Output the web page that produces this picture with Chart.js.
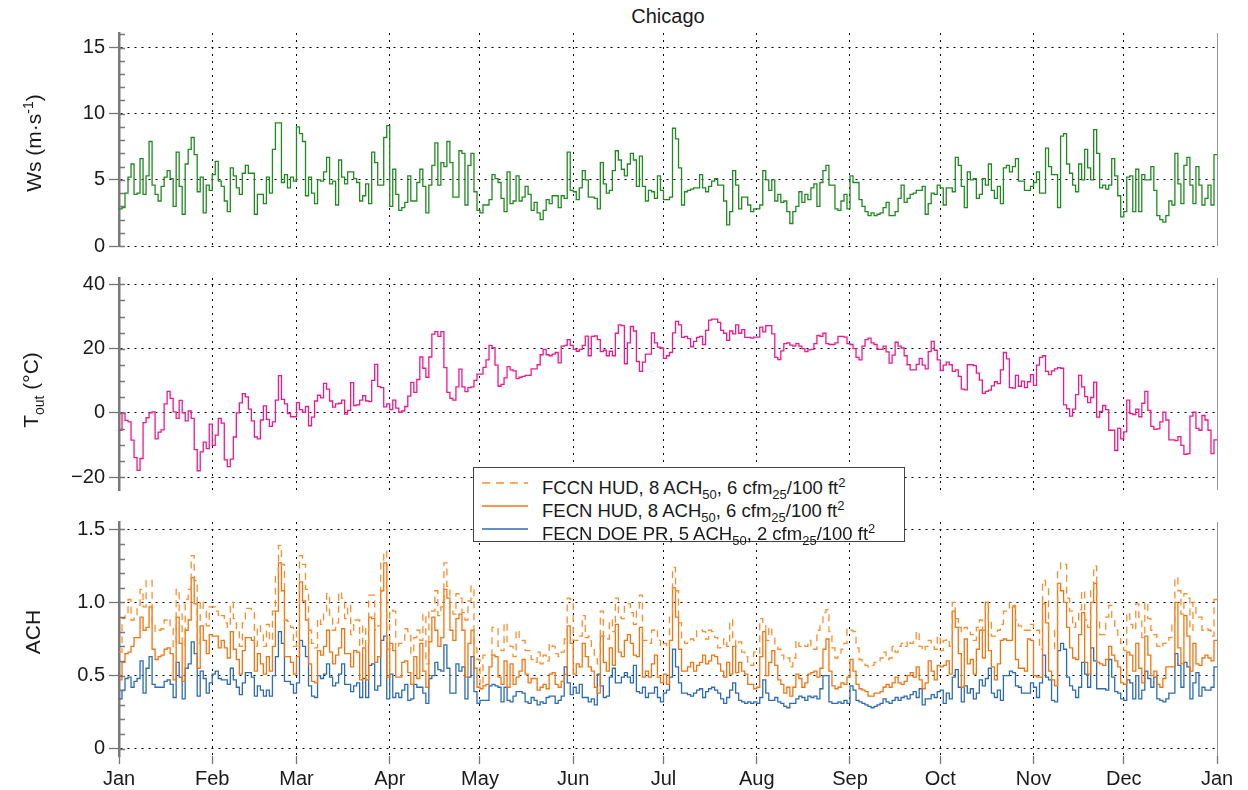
<!DOCTYPE html>
<html>
<head>
<meta charset="utf-8">
<title>Chicago</title>
<script src="https://cdn.jsdelivr.net/npm/chart.js@4.4.1/dist/chart.umd.min.js"></script>
<style>
  body { margin: 0; background: #fff; font-family: "Liberation Sans", Arial, sans-serif; color: #1a1a1a; }
  #page { position: relative; width: 1248px; height: 790px; overflow: hidden; }
  canvas { position: absolute; left: 0; }
  #title { position: absolute; left: 119px; width: 1098px; top: 5px; text-align: center; font-size: 20px; }
  .ylab { position: absolute; left: 33px; font-size: 21px; white-space: nowrap; transform: translate(-50%, -50%) rotate(-90deg); }
  .ylab sup, .ylab sub { font-size: 14px; }
  #legend { position: absolute; left: 473px; top: 467px; width: 430px; height: 73px; border: 1.5px solid #444; background: #fff; font-size: 18.5px; }
  #legend .row { position: absolute; left: 0; height: 23px; line-height: 23px; white-space: nowrap; }
  #legend svg { position: absolute; left: 8px; top: 10px; }
  #legend span { position: absolute; left: 68px; }
  #legend sub, #legend sup { font-size: 13px; }
</style>
</head>
<body>
<div id="page">
  <div id="title">Chicago</div>
  <canvas id="wsChart" width="1248" height="262" style="top:0"></canvas>
  <canvas id="toutChart" width="1248" height="244" style="top:262px"></canvas>
  <canvas id="achChart" width="1248" height="284" style="top:506px"></canvas>
  <div class="ylab" style="top:143px">Ws (m·s<sup>-1</sup>)</div>
  <div class="ylab" style="top:390px">T<sub>out</sub> (°C)</div>
  <div class="ylab" style="top:632px">ACH</div>
  <div id="legend">
    <div class="row" style="top:3px"><svg width="46" height="4"><line x1="0" y1="2" x2="46" y2="2" stroke="#ff8c2a" stroke-width="1.5" stroke-dasharray="8 6"/></svg><span>FCCN HUD, 8 ACH<sub>50</sub>, 6 cfm<sub>25</sub>/100 ft<sup>2</sup></span></div>
    <div class="row" style="top:26px"><svg width="46" height="4"><line x1="0" y1="2" x2="46" y2="2" stroke="#f5740f" stroke-width="1.5"/></svg><span>FECN HUD, 8 ACH<sub>50</sub>, 6 cfm<sub>25</sub>/100 ft<sup>2</sup></span></div>
    <div class="row" style="top:49px"><svg width="46" height="4"><line x1="0" y1="2" x2="46" y2="2" stroke="#2b6cb3" stroke-width="1.5"/></svg><span>FECN DOE PR, 5 ACH<sub>50</sub>, 2 cfm<sub>25</sub>/100 ft<sup>2</sup></span></div>
  </div>
</div>
<script>
// month ticks (day of year)
const monthStartDay = [0, 31, 59, 90, 120, 151, 181, 212, 243, 273, 304, 334, 365];
const monthLabels = ['Jan', 'Feb', 'Mar', 'Apr', 'May', 'Jun', 'Jul', 'Aug', 'Sep', 'Oct', 'Nov', 'Dec', 'Jan'];

const wsTicks = [0, 5, 10, 15];
const toutTicks = [-20, 0, 20, 40];
const achTicks = [0, 0.5, 1.0, 1.5];

// daily wind speed, m/s
const windSpeed = [
  2.8,2.9,4.0,5.2,6.2,3.9,4.0,6.6,3.9,5.3,7.9,4.6,3.9,3.4,4.5,5.2,5.7,5.1,3.0,7.1,4.5,2.4,6.2,7.3,8.2,6.9,4.1,5.2,2.5,4.6,4.2,
  5.4,6.4,4.9,4.5,3.4,2.6,5.9,5.3,4.4,3.9,5.5,6.1,5.5,5.5,2.4,3.9,3.9,3.2,5.2,4.0,7.3,9.3,9.3,4.8,5.4,4.4,5.2,4.9,
  9.0,8.5,7.9,3.8,5.2,4.0,3.2,5.0,4.9,5.6,6.7,4.7,4.9,3.1,6.5,5.2,4.7,5.6,5.6,5.1,4.8,3.4,3.8,4.7,3.2,7.1,6.3,4.6,4.6,8.2,9.1,
  3.0,5.8,3.9,2.7,2.9,3.3,5.3,3.4,3.4,4.8,5.8,4.5,2.5,4.6,6.1,7.8,4.6,6.3,6.0,7.9,6.3,3.7,3.7,7.2,7.0,3.1,6.1,7.0,4.1,2.7,
  2.5,3.1,3.1,3.5,5.4,5.1,4.8,3.6,2.6,5.6,3.2,3.4,5.3,3.4,3.7,4.5,3.9,2.7,3.3,2.5,2.0,2.7,3.5,3.2,3.8,3.8,2.9,3.8,3.6,7.1,4.2,
  4.1,3.5,4.4,5.7,5.0,3.7,3.7,3.6,2.8,6.3,4.7,4.0,4.2,5.7,7.2,6.5,5.8,5.3,6.2,7.0,6.5,4.5,6.8,4.5,3.4,4.2,4.1,3.6,5.3,4.2,
  3.5,3.5,3.7,8.9,8.1,5.9,3.1,4.1,4.2,4.3,4.4,4.4,5.4,4.4,4.1,4.5,4.9,5.1,4.6,4.6,3.4,1.6,2.6,5.7,4.6,2.8,3.7,3.7,3.1,2.6,2.8,
  2.8,3.1,5.7,5.0,4.2,5.0,3.4,3.9,3.3,3.4,2.6,1.7,2.6,3.0,4.1,3.3,3.9,3.5,4.4,4.7,3.0,4.8,5.7,6.1,4.6,4.6,2.8,2.7,3.4,3.9,2.8,
  5.3,4.8,4.8,3.5,3.0,2.6,2.3,2.5,2.3,2.4,2.5,2.9,3.3,2.3,2.3,2.6,3.6,4.6,3.3,3.6,3.9,4.0,4.2,4.2,4.5,2.4,3.2,4.0,3.9,4.6,
  4.4,3.1,4.4,4.4,4.1,6.7,6.1,4.5,2.9,5.6,5.0,5.1,3.6,3.9,5.1,4.6,6.2,4.2,3.6,4.5,3.2,5.9,6.1,5.6,6.0,6.6,4.9,4.9,4.2,4.2,4.5,
  4.8,5.6,4.0,4.0,7.4,6.0,5.4,5.4,2.9,8.3,8.5,6.2,5.5,4.6,4.1,6.2,5.0,7.3,5.9,5.0,8.8,7.0,4.4,4.6,4.3,4.6,6.6,5.3,3.8,2.2,
  2.6,5.2,5.3,2.6,5.8,2.6,5.4,5.0,5.0,6.0,4.2,2.3,2.0,1.8,2.3,3.4,3.1,7.0,4.7,3.2,6.1,6.7,4.6,3.2,6.0,4.6,3.1,3.6,4.6,3.1,6.9
];

// daily outdoor temperature, °C
const outdoorTemp = [
  -5.4,0,-2.3,-2.8,-8.5,-13.9,-17.9,-14.2,-3.0,-1.5,0,0.3,-8.1,-6.0,-5.3,2.8,6.7,4.5,0.3,-1.7,3.9,0,-2.5,0.6,-1.7,-11.4,-18,-12.1,-9.1,-11.1,-3.5,
  -10.1,-6.9,-1.7,-3.2,-14.6,-16.7,-14.4,-7.5,0,3.1,6.0,5.0,1.2,-2.5,-7.5,-8.1,-2.2,2.2,-2.0,-4.2,-2.8,4.0,11.6,4.2,2.8,-0.2,-1.2,-1.2,
  3.2,1.0,0.2,2.0,-4.0,-1.3,3.7,5.5,4.7,9.2,7.4,3.7,1.8,2.8,3.0,4.0,-0.4,0.8,9.4,2.3,2.5,4.0,5.4,3.7,3.5,10.1,15.1,8.2,7.9,1.9,2.8,
  1.0,4.0,1.5,0.2,0.6,2.0,5.2,9.5,6.4,10.4,17.4,13.9,11.1,17.4,24.5,25.3,23.8,25.3,14.1,6.4,4.5,4.0,8.1,13.6,8.1,6.6,7.9,8.1,10.1,12.1,
  12.1,14.2,16.5,21.0,20.3,14.9,8.3,8.9,10.9,14.4,13.4,13.1,10.7,11.1,11.4,11.7,11.7,13.7,13.7,15.0,18.1,19.8,18.1,17.8,18.3,18.8,15.6,20.8,21.0,22.8,21.0,
  19.8,19.2,19.8,21.0,23.9,17.8,23.8,24.0,22.8,19.1,19.5,17.8,19.2,17.8,24.8,27.4,27.2,15.3,21.8,26.9,25.5,16.0,12.9,15.8,18.3,18.3,24.9,21.8,20.5,20.2,
  17.0,17.8,18.8,24.9,28.5,27.4,23.5,23.8,23.1,20.6,22.3,23.5,23.8,21.3,25.7,28.9,29.2,29.2,28.2,25.7,24.8,22.6,25.5,24.6,27.4,24.8,25.9,23.5,23.5,23.3,23.6,
  23.6,26.7,25.2,27.2,27.2,24.6,17.3,16.6,19.3,21.6,21.8,21.1,20.8,21.6,20.8,20.0,19.1,19.6,19.8,21.6,24.1,23.8,24.8,21.6,21.3,21.3,21.8,23.8,23.8,23.6,21.6,
  21.3,20.0,17.3,16.5,20.8,22.8,23.3,21.8,21.3,19.8,19.8,20.8,19.0,15.5,18.0,22.0,20.8,20.2,17.8,15.0,13.4,13.4,15.1,17.0,14.9,13.7,19.1,22.3,19.5,16.5,
  13.2,14.9,15.8,15.0,12.9,13.4,11.4,7.4,7.2,15.0,15.0,14.7,12.4,10.2,6.1,6.7,7.1,8.4,9.7,9.1,13.4,18.8,16.8,7.9,7.7,11.7,8.3,9.9,7.9,9.7,11.9,
  8.6,14.9,17.3,17.8,12.9,11.9,13.1,13.7,14.1,13.9,2.5,1.3,-1.0,1.2,5.7,11.7,8.1,5.1,3.2,4.8,9.6,-1.3,0.5,2.3,1.0,-5.4,-5.4,-11.7,-4.8,-8.1,
  -5.9,4.0,-0.2,-0.5,1.2,-1.2,3.0,6.7,0.8,-4.2,-5.1,-5.0,-2.8,0.2,-2.2,-8.4,-8.4,-8.6,-7.4,-10.1,-12.9,-12.7,-1.0,0.2,-4.8,-5.4,-0.8,-2.2,-5.4,-12.7,-8.4
];

// daily air changes per hour
const achFccnHud = [
  0.66,0.89,0.91,1.02,0.88,0.91,0.98,1.09,0.97,1.15,1.15,0.86,0.80,0.81,0.82,0.88,0.89,0.82,0.70,1.09,0.92,0.70,1.02,1.09,1.32,1.15,0.72,1.01,0.94,0.84,0.97,
  0.97,0.94,0.90,0.91,0.86,0.83,1.00,0.89,0.81,0.70,0.86,0.96,0.96,0.93,0.70,0.84,0.80,0.70,0.85,0.74,0.94,1.19,1.39,1.26,0.88,0.87,0.83,0.70,
  0.81,1.32,1.26,1.09,0.81,0.72,0.69,0.89,0.85,0.94,1.06,0.90,0.81,0.86,1.07,1.03,0.89,0.98,0.78,0.88,0.88,0.70,0.84,0.70,1.05,1.05,0.81,0.84,1.27,1.35,0.68,
  0.95,0.94,0.68,0.72,0.74,0.82,0.80,0.65,0.76,0.81,0.74,0.92,0.58,0.95,0.94,1.08,0.91,0.97,1.27,1.11,0.94,0.92,1.06,1.03,0.93,0.88,1.01,1.11,0.69,0.61,
  0.43,0.64,0.64,0.64,0.83,0.82,0.70,0.67,0.86,0.73,0.70,0.63,0.81,0.74,0.74,0.67,0.67,0.61,0.59,0.66,0.58,0.64,0.60,0.72,0.70,0.65,0.63,0.66,0.75,1.03,1.02,
  0.74,0.74,0.77,0.91,0.76,0.77,0.69,0.64,0.58,0.94,0.77,0.75,0.88,0.80,1.03,0.90,0.89,0.99,0.99,0.93,0.85,0.94,1.05,0.74,0.74,0.72,0.81,0.82,0.74,0.70,
  0.72,0.69,0.90,1.24,1.08,0.86,0.75,0.72,0.74,0.75,0.74,0.81,0.81,0.80,0.75,0.81,0.80,0.76,0.69,0.70,0.75,0.70,0.88,0.74,0.70,0.73,0.66,0.63,0.59,0.57,0.66,
  0.65,0.89,0.86,0.74,0.83,0.76,0.71,0.68,0.64,0.61,0.62,0.56,0.62,0.74,0.70,0.71,0.70,0.74,0.68,0.68,0.81,0.85,0.93,0.95,0.80,0.69,0.62,0.64,0.68,0.72,0.82,
  0.81,0.80,0.69,0.61,0.59,0.57,0.56,0.57,0.59,0.60,0.62,0.66,0.61,0.62,0.70,0.66,0.70,0.72,0.70,0.74,0.72,0.75,0.80,0.70,0.67,0.70,0.74,0.70,0.68,0.77,
  0.67,0.74,0.75,0.70,1.00,0.89,0.83,0.80,0.83,0.81,0.78,0.74,0.83,0.88,0.81,1.00,0.88,0.77,0.77,0.81,0.85,0.94,0.95,1.00,0.98,0.88,0.84,0.81,0.81,0.81,0.85,
  0.83,0.81,0.68,1.15,1.10,0.81,0.81,0.67,1.22,1.27,1.26,1.03,0.94,0.83,0.88,0.95,1.08,0.88,0.83,1.08,1.25,0.88,0.78,0.78,0.90,0.98,0.88,0.81,0.76,0.72,
  0.67,0.93,0.85,0.81,0.99,0.90,0.76,1.00,0.89,0.81,0.78,0.70,0.69,0.72,0.74,0.76,0.85,1.17,1.08,0.92,1.06,1.03,0.81,1.00,0.90,0.90,0.81,0.82,0.81,0.77,1.02
];
const achFecnHud = [
  0.47,0.59,0.65,0.66,0.70,0.76,0.76,0.90,0.81,0.83,0.97,0.68,0.61,0.63,0.64,0.68,0.69,0.65,0.47,0.90,0.72,0.46,0.81,0.88,1.17,0.99,0.55,0.84,0.74,0.65,0.78,
  0.77,0.77,0.69,0.74,0.69,0.62,0.80,0.68,0.61,0.51,0.67,0.76,0.76,0.74,0.53,0.65,0.58,0.51,0.63,0.53,0.70,0.94,1.27,1.08,0.63,0.63,0.59,0.51,
  0.63,1.14,1.01,0.88,0.58,0.46,0.45,0.67,0.64,0.70,0.81,0.66,0.58,0.64,0.69,0.82,0.65,0.65,0.56,0.67,0.66,0.47,0.69,0.47,0.90,0.89,0.59,0.63,1.08,1.27,0.49,
  0.72,0.67,0.49,0.49,0.59,0.60,0.52,0.44,0.63,0.48,0.72,0.53,0.42,0.73,0.90,0.81,0.70,0.76,1.09,1.03,0.81,0.74,0.89,0.92,0.81,0.49,0.72,0.81,0.55,0.42,
  0.41,0.43,0.44,0.56,0.64,0.63,0.49,0.44,0.60,0.42,0.58,0.44,0.49,0.53,0.61,0.51,0.45,0.48,0.48,0.40,0.42,0.44,0.41,0.51,0.52,0.44,0.42,0.46,0.51,0.84,0.72,
  0.51,0.58,0.56,0.72,0.63,0.56,0.53,0.42,0.38,0.77,0.59,0.53,0.69,0.57,0.85,0.66,0.63,0.74,0.78,0.72,0.64,0.63,0.83,0.49,0.53,0.49,0.58,0.64,0.49,0.45,
  0.51,0.44,0.74,1.10,0.90,0.68,0.53,0.53,0.56,0.59,0.53,0.57,0.59,0.64,0.58,0.60,0.64,0.63,0.58,0.53,0.49,0.59,0.51,0.70,0.52,0.59,0.53,0.51,0.44,0.44,0.41,
  0.42,0.63,0.80,0.50,0.59,0.67,0.57,0.47,0.44,0.38,0.42,0.36,0.42,0.51,0.48,0.42,0.45,0.51,0.52,0.53,0.49,0.55,0.68,0.75,0.53,0.43,0.41,0.42,0.45,0.44,0.49,
  0.61,0.53,0.44,0.41,0.40,0.39,0.36,0.36,0.38,0.38,0.39,0.42,0.44,0.42,0.45,0.49,0.45,0.44,0.46,0.50,0.52,0.49,0.56,0.47,0.41,0.45,0.60,0.53,0.47,0.57,
  0.56,0.57,0.60,0.51,0.94,0.83,0.65,0.42,0.75,0.58,0.61,0.51,0.68,0.81,0.62,1.00,0.67,0.56,0.47,0.58,0.74,0.75,0.74,0.74,0.97,0.61,0.55,0.55,0.53,0.75,0.74,
  0.50,0.49,0.49,0.99,0.86,0.53,0.47,0.43,1.13,1.08,1.00,0.83,0.69,0.62,0.61,0.78,0.93,0.59,0.51,1.00,1.13,0.59,0.58,0.57,0.61,0.70,0.64,0.60,0.56,0.45,
  0.44,0.66,0.64,0.53,0.72,0.55,0.45,0.77,0.64,0.50,0.53,0.44,0.42,0.48,0.56,0.56,0.56,1.00,0.69,0.58,0.91,0.77,0.53,0.72,0.58,0.57,0.62,0.64,0.62,0.60,0.74
];
const achFecnDoe = [
  0.34,0.40,0.48,0.49,0.42,0.46,0.48,0.60,0.38,0.55,0.63,0.44,0.42,0.42,0.42,0.46,0.47,0.44,0.35,0.59,0.49,0.34,0.55,0.58,0.73,0.65,0.36,0.53,0.48,0.38,0.45,
  0.51,0.53,0.48,0.47,0.47,0.44,0.55,0.47,0.42,0.37,0.45,0.52,0.52,0.49,0.36,0.43,0.40,0.36,0.40,0.36,0.50,0.63,0.80,0.72,0.46,0.46,0.44,0.38,
  0.45,0.74,0.70,0.63,0.43,0.36,0.35,0.50,0.48,0.51,0.58,0.49,0.43,0.45,0.51,0.58,0.44,0.44,0.39,0.43,0.45,0.35,0.48,0.35,0.57,0.58,0.40,0.43,0.74,0.77,0.34,
  0.51,0.35,0.38,0.35,0.40,0.44,0.33,0.34,0.44,0.42,0.42,0.38,0.31,0.48,0.50,0.59,0.54,0.53,0.71,0.55,0.38,0.38,0.58,0.53,0.56,0.34,0.49,0.63,0.39,0.31,
  0.33,0.33,0.33,0.43,0.44,0.43,0.42,0.32,0.42,0.33,0.32,0.36,0.39,0.39,0.38,0.32,0.31,0.35,0.33,0.30,0.32,0.31,0.35,0.36,0.36,0.31,0.33,0.36,0.56,0.45,0.37,
  0.42,0.38,0.44,0.35,0.35,0.32,0.34,0.30,0.51,0.43,0.35,0.36,0.49,0.55,0.45,0.45,0.49,0.52,0.49,0.45,0.57,0.39,0.38,0.42,0.35,0.38,0.38,0.42,0.35,0.32,
  0.38,0.40,0.49,0.68,0.56,0.45,0.38,0.38,0.37,0.36,0.38,0.40,0.41,0.35,0.39,0.41,0.42,0.40,0.38,0.34,0.31,0.35,0.40,0.45,0.38,0.33,0.32,0.31,0.32,0.31,0.32,
  0.31,0.35,0.47,0.38,0.33,0.33,0.35,0.32,0.31,0.29,0.28,0.31,0.31,0.34,0.36,0.35,0.33,0.36,0.35,0.36,0.34,0.41,0.50,0.50,0.32,0.31,0.31,0.32,0.31,0.33,0.31,
  0.43,0.40,0.33,0.32,0.31,0.30,0.29,0.28,0.29,0.30,0.31,0.34,0.32,0.31,0.33,0.35,0.33,0.35,0.36,0.34,0.37,0.39,0.35,0.41,0.30,0.34,0.34,0.37,0.35,0.39,
  0.40,0.31,0.38,0.34,0.49,0.54,0.42,0.32,0.43,0.38,0.41,0.34,0.38,0.47,0.43,0.48,0.55,0.38,0.35,0.40,0.33,0.50,0.50,0.53,0.52,0.43,0.42,0.38,0.38,0.38,0.45,
  0.42,0.35,0.45,0.64,0.49,0.47,0.33,0.32,0.67,0.72,0.68,0.49,0.43,0.40,0.35,0.42,0.59,0.51,0.42,0.69,0.60,0.41,0.41,0.41,0.40,0.61,0.49,0.39,0.38,0.34,
  0.33,0.47,0.45,0.34,0.50,0.34,0.40,0.53,0.48,0.42,0.49,0.34,0.33,0.32,0.34,0.38,0.38,0.65,0.57,0.42,0.59,0.56,0.34,0.45,0.52,0.36,0.42,0.40,0.40,0.42,0.56
];

Chart.defaults.font.family = '"Liberation Sans", Arial, sans-serif';
Chart.defaults.color = '#1a1a1a';

// day i holds its value until day i+1
function toSteps(values) {
  const pts = values.map((v, i) => ({ x: i, y: v }));
  pts.push({ x: values.length, y: values[values.length - 1] });
  return pts;
}

function line(label, values, color, dash) {
  return {
    label, data: toSteps(values), borderColor: color, borderWidth: 1.3,
    borderDash: dash || [], pointRadius: 0, stepped: true, fill: false
  };
}

// inward minor ticks on the left axis and a thin right frame line
const minorTicks = {
  id: 'minorTicks',
  afterDatasetsDraw(chart, args, opts) {
    const s = chart.scales.y, a = chart.chartArea, ctx = chart.ctx;
    ctx.save();
    ctx.strokeStyle = '#777';
    ctx.lineWidth = 1.3;
    ctx.beginPath();
    const first = Math.ceil(s.min / opts.step - 1e-6), last = Math.floor(s.max / opts.step + 1e-6);
    for (let i = first; i <= last; i++) {
      const y = Math.round(s.getPixelForValue(i * opts.step)) + 0.5;
      ctx.moveTo(a.left, y);
      ctx.lineTo(a.left + 6, y);
    }
    ctx.stroke();
    ctx.strokeStyle = '#999';
    ctx.lineWidth = 1;
    ctx.beginPath();
    ctx.moveTo(a.right + 0.5, a.top);
    ctx.lineTo(a.right + 0.5, a.bottom);
    ctx.stroke();
    ctx.restore();
  }
};

function makeChart(id, datasets, yMin, yMax, yTicks, yLabel, minorStep, padTop, xHeight) {
  return new Chart(document.getElementById(id), {
    type: 'line',
    data: { datasets },
    plugins: [minorTicks],
    options: {
      responsive: false,
      animation: false,
      parsing: false,
      layout: { padding: { top: padTop, right: 31, left: 0, bottom: xHeight ? 0 : 10 } },
      plugins: { legend: { display: false }, tooltip: { enabled: false }, minorTicks: { step: minorStep } },
      scales: {
        x: {
          type: 'linear', min: 0, max: 365,
          afterBuildTicks: s => { s.ticks = monthStartDay.map(v => ({ value: v })); },
          afterFit: s => { s.height = xHeight; },
          ticks: {
            display: xHeight > 0, autoSkip: false, maxRotation: 0, padding: 3,
            font: { size: 20 }, color: '#1a1a1a',
            callback: (v, i) => monthLabels[i]
          },
          grid: { color: '#000', lineWidth: 1, drawTicks: xHeight > 0, tickLength: 8, tickColor: '#777', tickWidth: 1.3 },
          border: { display: false, dash: [2, 5] }
        },
        y: {
          min: yMin, max: yMax,
          afterBuildTicks: s => { s.ticks = yTicks.map(v => ({ value: v })); },
          afterFit: s => { s.width = 119; },
          ticks: { font: { size: 20 }, color: '#1a1a1a', padding: 4, callback: yLabel },
          grid: { color: '#000', lineWidth: 1, tickLength: 10, tickColor: '#777', tickWidth: 1.3 },
          border: { display: true, color: '#7a7a7a', width: 2.5, dash: [2, 5] }
        }
      }
    }
  });
}

const minus = v => (v < 0 ? '\u2212' + Math.abs(v) : String(v));

makeChart('wsChart', [line('Ws', windSpeed, '#1f8a1f')], 0, 16.1, wsTicks, minus, 1, 33, 0);
makeChart('toutChart', [line('Tout', outdoorTemp, '#f5168a')], -24, 42, toutTicks, minus, 5, 12, 0);
makeChart('achChart', [
  line('FCCN HUD, 8 ACH50, 6 cfm25/100 ft2', achFccnHud, '#ff8c2a', [7, 5]),
  line('FECN HUD, 8 ACH50, 6 cfm25/100 ft2', achFecnHud, '#f5740f'),
  line('FECN DOE PR, 5 ACH50, 2 cfm25/100 ft2', achFecnDoe, '#2b6cb3')
], -0.05, 1.55, achTicks, v => (v === 0 ? '0' : v.toFixed(1)), 0.1, 14, 34);
</script>
</body>
</html>
